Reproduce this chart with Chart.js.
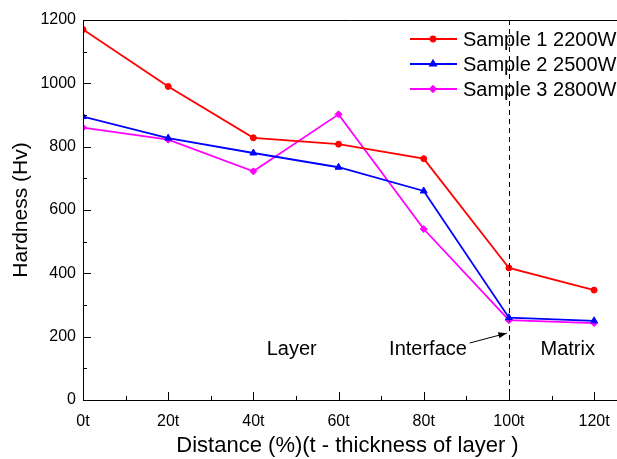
<!DOCTYPE html>
<html>
<head>
<meta charset="utf-8">
<script src="https://cdn.jsdelivr.net/npm/chart.js@4"></script>
<style>
  html, body { margin: 0; padding: 0; background: #fff; }
  #wrap { width: 617px; height: 459px; }
</style>
</head>
<body>
<div id="wrap"><canvas id="lineChart" width="617" height="459"></canvas></div>
<script>
const distances = [0, 20, 40, 60, 80, 100, 120];
const sample1 = [1170, 990, 828, 808, 762, 417, 347];
const sample2 = [895, 827, 780, 735, 660, 260, 250];
const sample3 = [860, 822, 722, 902, 540, 252, 243];
const seriesNames = ['Sample 1 2200W', 'Sample 2 2500W', 'Sample 3 2800W'];
const regionLabels = [
    { text: 'Layer', x: 49, y: 158 },
    { text: 'Interface', x: 81, y: 158 },
    { text: 'Matrix', x: 113.8, y: 158 }
];

const FONT = '"Liberation Sans", Arial, sans-serif';

function toPoints(values) {
    return distances.map((d, i) => ({ x: d, y: values[i] }));
}

// ticks vers l'intérieur, cadre du haut, ligne pointillée, annotations et légende
const extras = {
    id: 'extras',
    afterDraw(chart) {
        const ctx = chart.ctx;
        const x = chart.scales.x, y = chart.scales.y;
        const area = chart.chartArea;
        ctx.save();
        ctx.strokeStyle = '#000';
        ctx.lineWidth = 1;

        // cadre
        ctx.beginPath();
        ctx.moveTo(area.left + 0.5, area.bottom);
        ctx.lineTo(area.left + 0.5, area.top + 0.5);
        ctx.lineTo(617, area.top + 0.5);
        ctx.moveTo(area.left, area.bottom + 0.5);
        ctx.lineTo(617, area.bottom + 0.5);
        ctx.stroke();

        // graduations
        ctx.beginPath();
        for (let v = 0; v <= 120; v += 10) {
            const px = Math.round(x.getPixelForValue(v)) + 0.5;
            const len = v % 20 === 0 ? 8 : 4;
            ctx.moveTo(px, area.bottom);
            ctx.lineTo(px, area.bottom - len);
        }
        for (let v = 0; v <= 1200; v += 100) {
            const py = Math.round(y.getPixelForValue(v)) + 0.5;
            const len = v % 200 === 0 ? 8 : 4;
            ctx.moveTo(area.left, py);
            ctx.lineTo(area.left + len, py);
        }
        ctx.stroke();

        // ligne pointillée à l'interface
        const ix = Math.round(x.getPixelForValue(100)) + 0.5;
        ctx.setLineDash([5, 4]);
        ctx.beginPath();
        ctx.moveTo(ix, area.top);
        ctx.lineTo(ix, area.bottom);
        ctx.stroke();
        ctx.setLineDash([]);

        // textes des régions
        ctx.fillStyle = '#000';
        ctx.font = '20px ' + FONT;
        ctx.textAlign = 'center';
        ctx.textBaseline = 'middle';
        regionLabels.forEach(r => {
            ctx.fillText(r.text, x.getPixelForValue(r.x), y.getPixelForValue(r.y));
        });

        // flèche
        const ax0 = x.getPixelForValue(90.8), ay0 = y.getPixelForValue(180);
        const ax1 = x.getPixelForValue(99.5), ay1 = y.getPixelForValue(211);
        ctx.beginPath();
        ctx.moveTo(ax0, ay0);
        ctx.lineTo(ax1, ay1);
        ctx.stroke();
        const ang = Math.atan2(ay1 - ay0, ax1 - ax0);
        ctx.beginPath();
        ctx.moveTo(ax1, ay1);
        ctx.lineTo(ax1 - 9 * Math.cos(ang - 0.35), ay1 - 9 * Math.sin(ang - 0.35));
        ctx.lineTo(ax1 - 9 * Math.cos(ang + 0.35), ay1 - 9 * Math.sin(ang + 0.35));
        ctx.closePath();
        ctx.fill();

        // légende
        ctx.textAlign = 'left';
        ctx.font = '20px ' + FONT;
        chart.data.datasets.forEach((ds, i) => {
            const ly = 39 + i * 25;
            ctx.strokeStyle = ds.borderColor;
            ctx.lineWidth = 2;
            ctx.beginPath();
            ctx.moveTo(410, ly);
            ctx.lineTo(457, ly);
            ctx.stroke();
            ctx.fillStyle = ds.borderColor;
            Chart.helpers.drawPoint(ctx, {
                pointStyle: ds.pointStyle,
                radius: ds.pointRadius * 0.8,
                borderWidth: 1
            }, 433, ly);
            ctx.fill();
            ctx.fillStyle = '#000';
            ctx.fillText(ds.label, 463, ly + 1);
        });
        ctx.restore();
    }
};

const ctxLine = document.getElementById('lineChart').getContext('2d');
const lineChart = new Chart(ctxLine, {
    type: 'line',
    data: {
        datasets: [
            {
                label: seriesNames[0],
                data: toPoints(sample1),
                borderColor: '#ff0000',
                backgroundColor: '#ff0000',
                pointStyle: 'circle',
                pointRadius: 3
            },
            {
                label: seriesNames[1],
                data: toPoints(sample2),
                borderColor: '#0000ff',
                backgroundColor: '#0000ff',
                pointStyle: 'triangle',
                pointRadius: 4
            },
            {
                label: seriesNames[2],
                data: toPoints(sample3),
                borderColor: '#ff00ff',
                backgroundColor: '#ff00ff',
                pointStyle: 'rectRot',
                pointRadius: 3.5
            }
        ]
    },
    options: {
        responsive: false,
        animation: false,
        events: [],
        layout: { padding: { top: 20, right: 0, left: 0, bottom: 0 } },
        elements: {
            line: { borderWidth: 1.8, tension: 0 },
            point: { borderWidth: 1 }
        },
        plugins: {
            legend: { display: false },
            tooltip: { enabled: false }
        },
        scales: {
            x: {
                type: 'linear',
                min: 0,
                max: 124.2,
                border: { display: false },
                grid: { display: false, drawTicks: false },
                afterBuildTicks: scale => {
                    scale.ticks = distances.map(v => ({ value: v }));
                },
                afterFit: scale => {
                    scale.height = 59;
                    scale.paddingLeft = 0;
                    scale.paddingRight = 0;
                },
                ticks: {
                    padding: 12,
                    maxRotation: 0,
                    autoSkip: false,
                    color: '#000',
                    font: { family: FONT, size: 16 },
                    callback: v => v + 't'
                },
                title: {
                    display: true,
                    text: 'Distance (%)(t - thickness of layer )',
                    color: '#000',
                    font: { family: FONT, size: 22 },
                    padding: { top: 0, bottom: 0 }
                }
            },
            y: {
                min: 0,
                max: 1200,
                border: { display: false },
                grid: { display: false, drawTicks: false },
                afterFit: scale => { scale.width = 83; },
                ticks: {
                    stepSize: 200,
                    padding: 7,
                    color: '#000',
                    font: { family: FONT, size: 16 },
                    callback: v => String(v)
                },
                title: {
                    display: true,
                    text: 'Hardness (Hv)',
                    color: '#000',
                    font: { family: FONT, size: 21 },
                    padding: { top: 9, bottom: 4 }
                }
            }
        }
    },
    plugins: [extras]
});
</script>
</body>
</html>
